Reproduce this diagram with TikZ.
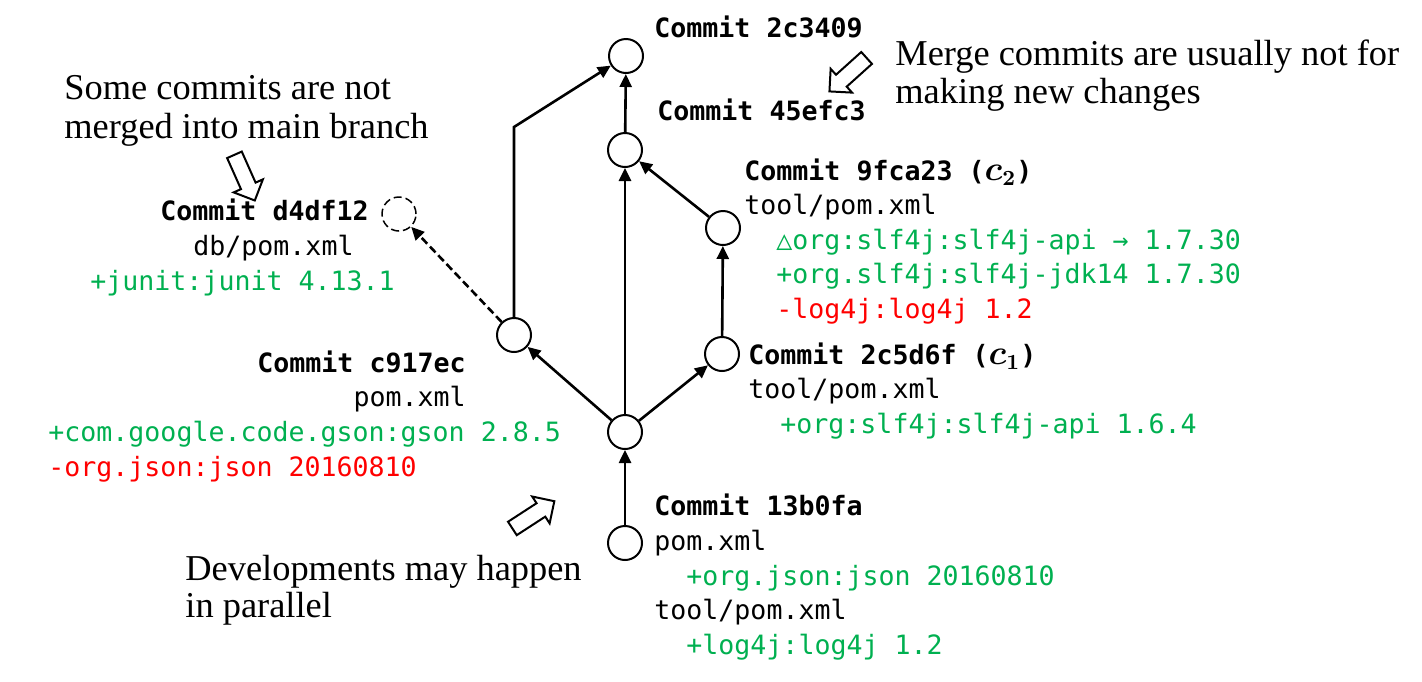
\documentclass[tikz,border=0pt]{standalone}
\usepackage{fontspec}
\setmainfont{Liberation Serif}
\setmonofont{DejaVu Sans Mono}
\usepackage{xcolor}
\usepackage{tikz}
\usetikzlibrary{arrows.meta,shapes.arrows}
\definecolor{addgreen}{RGB}{0,176,80}
\definecolor{delred}{RGB}{255,0,0}
\begin{document}
\begin{tikzpicture}[x=0.5pt,y=-0.5pt,
		commit/.style={circle,draw,line width=1pt,minimum size=17pt,inner sep=0pt},
		lost/.style={commit,line width=0.75pt,dash pattern=on 4pt off 2pt},
		link/.style={line width=1.3pt,-{Triangle[length=6.5pt,width=6pt]}},
		code/.style={font=\ttfamily\fontsize{13.3}{16}\selectfont,inner sep=0pt,anchor=base west},
		hash/.style={code,font=\ttfamily\bfseries\boldmath\fontsize{13.3}{16}\selectfont},
		added/.style={code,text=addgreen},
		removed/.style={code,text=delred},
		remark/.style={font=\fontsize{18.2}{22}\selectfont,inner sep=0pt,anchor=base west},
		hint/.style={single arrow,draw,line width=1pt,inner sep=3.5pt,minimum height=25pt,single arrow head extend=4pt,single arrow tip angle=90}]
			\useasboundingbox (0,0) rectangle (1422,681);
			\node[commit] (c2c3409) at (626,56) {};
			\node[commit] (c45efc3) at (625,150) {};
			\node[commit] (c9fca23) at (723,228) {};
			\node[lost] (cd4df12) at (399,214) {};
			\node[commit] (cc917ec) at (514,335) {};
			\node[commit] (c2c5d6f) at (722,354) {};
			\node[commit] (cmid) at (625,432) {};
			\node[commit] (c13b0fa) at (625,543) {};
			\coordinate (bend) at (514,127);
			\draw[link] (c13b0fa) -- (cmid);
			\draw[link] (cmid) -- (cc917ec);
			\draw[link] (cmid) -- (c45efc3);
			\draw[link] (cmid) -- (c2c5d6f);
			\draw[link] (c2c5d6f) -- (c9fca23);
			\draw[link] (c9fca23) -- (c45efc3);
			\draw[link] (c45efc3) -- (c2c3409);
			\draw[link] (cc917ec) -- (bend) -- (c2c3409);
			\draw[link,dash pattern=on 4pt off 2pt] (cc917ec) -- (cd4df12);
			\node[hash] (t2c3409) at (654,37) {Commit 2c3409};
			\node[hash] (t45efc3) at (657,120) {Commit 45efc3};
			\node[hash] (t9fca23) at (744,180) {Commit 9fca23 (\scalebox{1.2}{$c_2$})};
			\node[code] (f9fca23) at (744,214) {tool/pom.xml};
			\node[added] (a9fca23) at (776,249) {△org:slf4j:slf4j-api → 1.7.30};
			\node[added] (b9fca23) at (776,283) {+org.slf4j:slf4j-jdk14 1.7.30};
			\node[removed] (r9fca23) at (776,318) {-log4j:log4j 1.2};
			\node[hash] (t2c5d6f) at (748,364) {Commit 2c5d6f (\scalebox{1.2}{$c_1$})};
			\node[code] (f2c5d6f) at (748,398) {tool/pom.xml};
			\node[added] (a2c5d6f) at (780,433) {+org:slf4j:slf4j-api 1.6.4};
			\node[hash] (t13b0fa) at (654,515) {Commit 13b0fa};
			\node[code] (f13b0fa) at (654,550) {pom.xml};
			\node[added] (a13b0fa) at (686,585) {+org.json:json 20160810};
			\node[code] (g13b0fa) at (654,619) {tool/pom.xml};
			\node[added] (b13b0fa) at (686,654) {+log4j:log4j 1.2};
			\node[hash,anchor=base east] (tc917ec) at (466,372) {Commit c917ec};
			\node[code,anchor=base east] (fc917ec) at (466,406) {pom.xml};
			\node[added] (ac917ec) at (48,441) {+com.google.code.gson:gson 2.8.5};
			\node[removed] (rc917ec) at (48,476) {-org.json:json 20160810};
			\node[hash,anchor=base east] (td4df12) at (369,220) {Commit d4df12};
			\node[code] (fd4df12) at (193,255) {db/pom.xml};
			\node[added] (ad4df12) at (90,290) {+junit:junit 4.13.1};
			\node[remark] (lost1) at (64,99) {Some commits are not};
			\node[remark] (lost2) at (64,138) {merged into main branch};
			\node[remark] (merge1) at (895,65) {Merge commits are usually not for};
			\node[remark] (merge2) at (895,103) {making new changes};
			\node[remark] (par1) at (185,580) {Developments may happen};
			\node[remark] (par2) at (185,617) {in parallel};
			\node[hint,rotate=-66] (hintlost) at (243,174) {};
			\node[hint,rotate=222] (hintmerge) at (851,72) {};
			\node[hint,rotate=33] (hintpar) at (530,517) {};
		\end{tikzpicture}
\end{document}
